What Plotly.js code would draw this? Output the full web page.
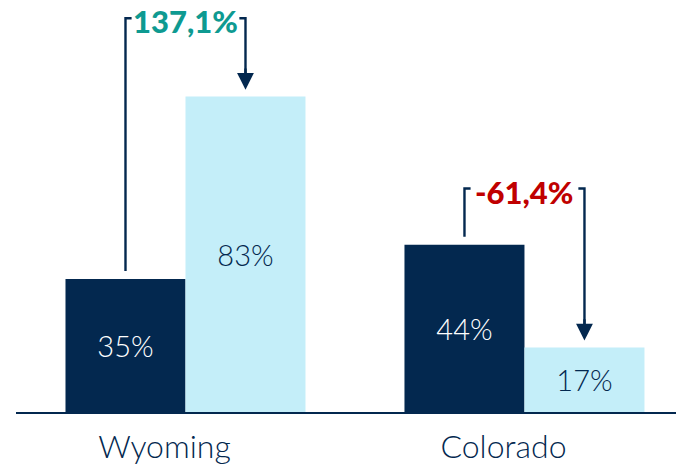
<!DOCTYPE html>
<html>
<head>
<meta charset="utf-8">
<script src="https://cdn.plot.ly/plotly-3.0.1.min.js"></script>
<style>html,body{margin:0;padding:0;background:#fff;}#chart{width:676px;height:472px;}</style>
</head>
<body>
<div id="chart"></div>
<script>
// ---- data ----
const categories = ["Wyoming", "Colorado"];
const seriesBefore = [35, 44];
const seriesAfter = [83, 17];
const tickLabels = ["Wyoming", "Colorado"];

// ---- style / layout constants ----
const NAVY = "#03284f";
const LIGHT = "#c4eef9";
const TEAL = "#0e9a91";
const RED = "#c00000";
const FONT = "Lato, 'Open Sans', sans-serif";
const BARGAP = 0.292;
const HALF = (1 - BARGAP) / 4;      // offset of each bar centre from group centre
const TICK = 0.018;                 // bracket tick length (x units)
const GAP_LEFT = 2.1;               // gap above before-bar (y units)
const GAP_TIP = 1.8;                // gap between arrow tip and after-bar
const bracketTop = [103.6, 58.8];   // bracket heights (y units)

const xs = categories.map((c, i) => i);

const traces = [
  {
    type: "bar", x: xs, y: seriesBefore,
    marker: {color: NAVY, line: {width: 0}},
    text: seriesBefore.map(v => v + "%"),
    textposition: "inside", insidetextanchor: "middle", textangle: 0,
    constraintext: "none",
    textfont: {family: FONT, size: 29, color: "#ffffff", weight: 300},
    hoverinfo: "none", cliponaxis: false
  },
  {
    type: "bar", x: xs, y: seriesAfter,
    marker: {color: LIGHT, line: {width: 0}},
    text: seriesAfter.map(v => v + "%"),
    textposition: "inside", insidetextanchor: "middle", textangle: 0,
    constraintext: "none",
    textfont: {family: FONT, size: 29, color: NAVY, weight: 300},
    hoverinfo: "none", cliponaxis: false
  }
];

const shapes = [];
const annotations = [];
xs.forEach((x, i) => {
  const a = seriesBefore[i], b = seriesAfter[i];
  const xl = x - HALF, xr = x + HALF, top = bracketTop[i];
  shapes.push({
    type: "path", xref: "x", yref: "y",
    path: `M ${xl},${a + GAP_LEFT} L ${xl},${top} L ${xl + TICK},${top}`,
    line: {color: NAVY, width: 2.4}
  });
  shapes.push({
    type: "path", xref: "x", yref: "y",
    path: `M ${xr - TICK},${top} L ${xr},${top} L ${xr},${b + GAP_TIP + 3}`,
    line: {color: NAVY, width: 2.4}
  });
  annotations.push({
    x: xr, y: b + GAP_TIP, xref: "x", yref: "y",
    ax: xr, ay: b + GAP_TIP + 6, axref: "x", ayref: "y",
    text: "", showarrow: true, arrowhead: 2, arrowsize: 1.4, arrowwidth: 2.4,
    arrowcolor: NAVY, standoff: 0, startstandoff: 0
  });
  const pct = (b / a - 1) * 100;
  annotations.push({
    x: x, y: top, xref: "x", yref: "y", yshift: -3,
    text: pct.toFixed(1).replace(".", ",") + "%",
    showarrow: false, xanchor: "center", yanchor: "middle",
    font: {family: FONT, size: 31, color: pct >= 0 ? TEAL : RED, weight: 900}
  });
});

const layout = {
  width: 676, height: 472,
  margin: {l: 16, r: 0, t: 0, b: 60, pad: 0},
  paper_bgcolor: "#ffffff", plot_bgcolor: "#ffffff",
  showlegend: false,
  barmode: "group", bargap: BARGAP, bargroupgap: 0,
  xaxis: {
    range: [-0.5, 1.447], tickvals: xs, ticktext: tickLabels,
    showgrid: false, zeroline: false, showline: true,
    linecolor: NAVY, linewidth: 2, ticks: "",
    ticklabelshift: -21, ticklabelstandoff: 6,
    tickfont: {family: FONT, size: 32, color: NAVY, weight: 300},
    fixedrange: true
  },
  yaxis: {
    range: [0, 108.4], visible: false, showgrid: false, zeroline: false,
    fixedrange: true
  },
  shapes: shapes,
  annotations: annotations,
  font: {family: FONT}
};

Plotly.newPlot("chart", traces, layout, {displayModeBar: false, staticPlot: true});
</script>
</body>
</html>
